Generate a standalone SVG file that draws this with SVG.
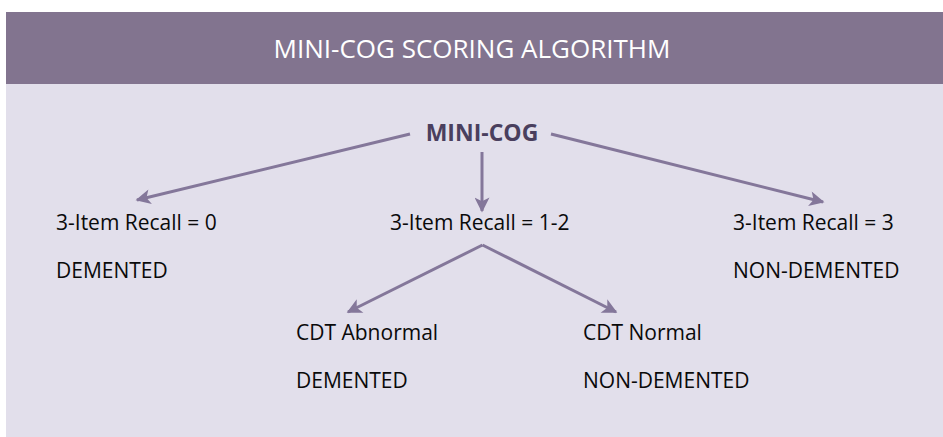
<svg xmlns="http://www.w3.org/2000/svg" width="943" height="437" viewBox="0 0 943 437">
<style>
.t{font-family:"Open Sans","Liberation Sans",sans-serif;font-size:21px;fill:#0a0a0a}
.title{font-family:"Open Sans","Liberation Sans",sans-serif;font-size:26px;fill:#ffffff}
.root{font-family:"Open Sans","Liberation Sans",sans-serif;font-size:23px;font-weight:bold;fill:#4a3f5e}
.c{stroke:#84779a;stroke-width:3;fill:none;marker-end:url(#ah)}
</style>
<defs>
<marker id="ah" viewBox="0 0 10 10" refX="9" refY="5" markerWidth="6" markerHeight="5" orient="auto" markerUnits="strokeWidth">
<path d="M0,0 L10,5 L0,10 L2.5,5 z" fill="#84779a"/>
</marker>
</defs>
<rect x="6" y="12" width="937" height="425" fill="#e2dfeb"/>
<rect x="6" y="12" width="937" height="72" fill="#82748f"/>
<text class="title" x="472" y="58" text-anchor="middle">MINI-COG SCORING ALGORITHM</text>
<g id="connectors">
<line class="c" x1="410" y1="134" x2="137" y2="200"/>
<line class="c" x1="482" y1="152" x2="482" y2="211"/>
<line class="c" x1="551" y1="134" x2="823" y2="202"/>
<line class="c" x1="482.5" y1="245" x2="348" y2="312"/>
<line class="c" x1="482.5" y1="245" x2="616" y2="312"/>
</g>
<g id="root"><text class="root" x="482" y="141" text-anchor="middle">MINI-COG</text></g>
<g id="recall0"><text class="t" x="56" y="230">3-Item Recall = 0</text><text class="t" x="56" y="278">DEMENTED</text></g>
<g id="recall12"><text class="t" x="390" y="230">3-Item Recall = 1-2</text></g>
<g id="recall3"><text class="t" x="733" y="230">3-Item Recall = 3</text><text class="t" x="733" y="278">NON-DEMENTED</text></g>
<g id="cdtabnormal"><text class="t" x="296" y="340">CDT Abnormal</text><text class="t" x="296" y="388">DEMENTED</text></g>
<g id="cdtnormal"><text class="t" x="583" y="340">CDT Normal</text><text class="t" x="583" y="388">NON-DEMENTED</text></g>
</svg>
